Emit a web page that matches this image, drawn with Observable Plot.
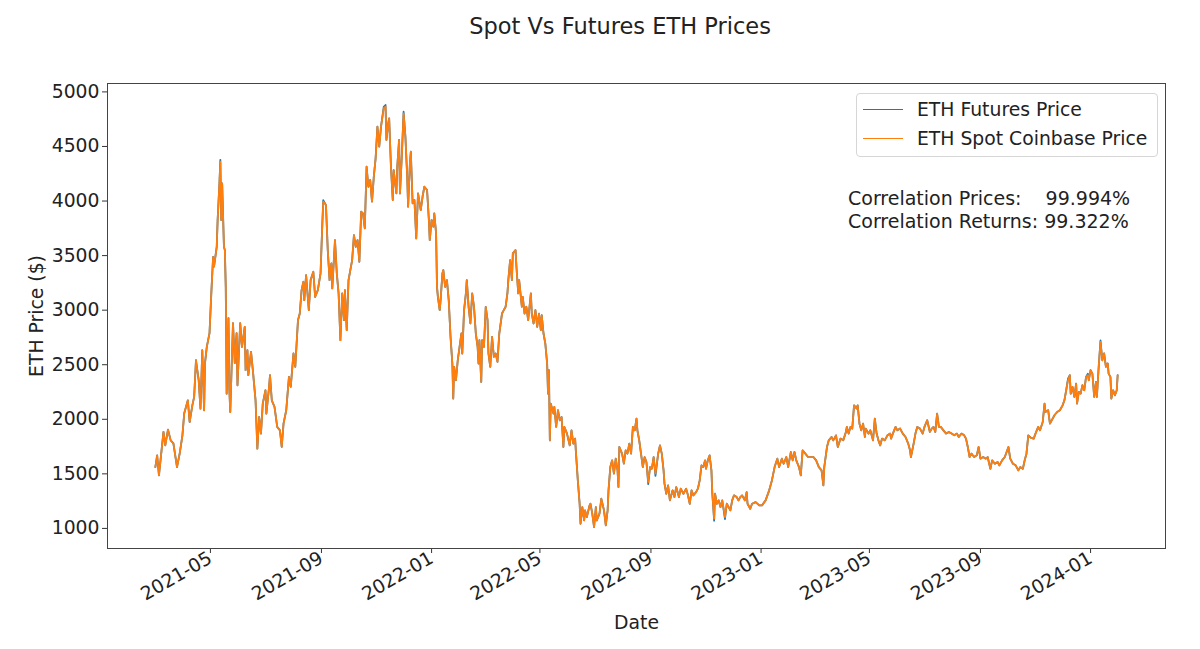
<!DOCTYPE html>
<html>
<head>
<meta charset="utf-8">
<script src="https://cdn.jsdelivr.net/npm/d3@7"></script>
<script src="https://cdn.jsdelivr.net/npm/@observablehq/plot@0.6"></script>
<style>
  html, body { margin: 0; padding: 0; background: #fff; }
  #wrap { position: relative; width: 1200px; height: 649px; font-family: "DejaVu Sans", sans-serif; color: #222; }
  #title { height: 50px; line-height: 52px; padding-left: 40px; text-align: center; font-size: 22.5px; }
  #legend { position: absolute; left: 856px; top: 93px; width: 300px; height: 62px; border: 1px solid #d6d6d6; border-radius: 4px; background: rgba(255,255,255,0.8); font-size: 18.8px; }
  .lg-row { position: absolute; left: 0; height: 24px; line-height: 24px; white-space: nowrap; }
  .lg-sw { position: absolute; left: 6px; top: 11px; width: 40px; height: 0; border-top: 1.6px solid; }
  .lg-tx { position: absolute; left: 60px; top: 0; }
  #corr { position: absolute; left: 848px; top: 187px; font-size: 19px; line-height: 23.4px; white-space: pre; }
</style>
</head>
<body>
<div id="wrap">
  <div id="title">Spot Vs Futures ETH Prices</div>
  <div id="chart"></div>
  <div id="legend"></div>
  <div id="corr"></div>
</div>
<script>
// ---- Data (days since 2021-03-01, ETH spot price in $) ----
const startDate = "2021-03-01";
const spotDay = [0,2,4,9,11,14,17,20,24,27,30,32,36,38,41,43,45,48,50,52,54,55,57,60,62,64,65,68,69,71,72,73,74,76,77,78,79,81,82,83,86,88,90,91,94,96,99,100,102,103,106,108,111,113,115,117,119,122,123,126,127,129,132,135,138,140,142,145,148,
150,153,155,158,160,162,164,165,167,170,172,175,177,180,183,185,186,189,191,193,195,196,199,201,203,205,207,209,210,212,214,216,218,220,222,224,226,228,230,232,234,236,238,240,242,244,246,248,250,253,255,256,258,259,261,263,264,267,268,270,271,273,275,277,279,280,282,283,285,287,289,291,294,296,298,301,303,304,306,308,309,311,312,313,315,
316,318,319,321,323,325,327,329,330,331,333,335,337,339,340,342,344,345,347,349,351,353,355,357,358,359,361,362,364,366,368,369,371,373,375,377,379,381,384,386,388,390,391,393,395,396,399,400,402,403,406,407,409,411,413,416,417,419,421,423,425,427,428,430,432,434,435,436,437,438,441,442,444,446,448,450,452,453,456,459,461,463,465,466,468,470,471,473,475,476,478,481,
482,484,486,488,489,492,494,497,499,501,502,504,506,508,510,512,513,514,517,519,521,523,525,527,529,531,533,534,536,538,540,542,544,546,548,550,552,554,557,559,561,563,564,566,568,570,573,575,577,580,582,585,588,590,592,594,596,599,601,603,605,607,609,610,612,614,616,617,619,620,622,624,626,628,631,633,635,637,639,641,644,646,648,
650,653,655,656,659,661,665,669,672,676,680,683,686,689,691,694,696,699,701,704,706,708,710,713,715,717,720,723,726,729,732,735,738,740,741,744,746,749,751,754,756,759,762,765,766,768,770,772,774,777,778,780,782,784,786,787,790,792,795,797,799,801,803,805,808,811,814,
815,817,820,822,825,828,831,834,836,837,840,842,844,847,850,852,855,858,860,862,864,866,868,870,873,876,879,882,885,888,890,893,896,898,900,902,904,907,910,912,914,917,920,922,925,927,930,933,935,938,941,943,945,947,950,953,956,958,961,963,965,967,
970,973,975,978,980,983,985,986,989,991,994,996,999,1002,1005,1007,1009,1011,1013,1014,1016,1018,1020,1021,1023,1025,1027,1029,1031,1033,1034,1036,1038,1040,1042,1043,1045,1047,1049,1051,1053,1055,1056,1058,1059,1061,1063,1065,1066];
const spotPrice = [1562,1670,1486,1884,1761,1905,1807,1780,1562,1688,1853,2055,2174,1975,2128,2205,2541,2358,2098,2633,2083,2514,2663,2789,3156,3489,3398,3581,3826,4162,4360,3826,4162,3581,3550,3213,2235,2927,2266,2067,2881,2514,2789,2312,2881,2663,2847,2450,2633,2404,2618,2450,2174,1731,2021,1869,2144,2266,2052,2297,2404,2174,2113,1930,1899,1746,1960,2083,2389,
2297,2603,2480,2908,2969,3183,3260,3092,3321,3000,3275,3352,3122,3183,3337,3795,3994,3963,3550,3275,3428,3199,3642,3337,3153,2725,3153,2908,3183,2817,3275,3367,3459,3688,3581,3642,3443,3902,3887,3749,4315,4131,4193,3994,4223,4391,4682,4498,4682,4850,4865,4560,4713,4758,4315,4009,4284,4070,4315,4560,4070,4407,4804,4590,4223,3948,4346,4452,3979,4009,3658,4070,3917,4039,4131,4101,3826,3642,3826,3765,3887,3703,3213,3122,3000,
3092,3337,3367,3213,3275,3092,2755,2511,2190,2480,2358,2541,2663,2786,2603,3000,3153,3275,3031,2878,3153,3031,2786,2663,2511,2725,2342,2725,2663,3031,2908,2603,2480,2755,2572,2603,2526,2786,2969,3000,3031,3153,3275,3459,3275,3520,3550,3398,3153,3275,3031,3122,2969,3031,2908,3153,2969,2878,3000,2847,2969,2817,2954,2786,2694,2511,2235,2450,1807,2144,2052,2113,1930,2083,1991,2021,1746,1930,1869,1761,1899,1777,1823,1685,1440,1226,1043,1196,1073,1165,1104,1211,
1226,1135,1012,1196,1073,1135,1272,1165,1028,1165,1349,1562,1624,1502,1639,1532,1379,1746,1685,1593,1716,1685,1777,1685,1930,1899,2006,1899,1807,1685,1562,1654,1609,1425,1562,1547,1654,1502,1685,1761,1685,1532,1410,1318,1394,1257,1349,1287,1379,1287,1364,1318,1364,1303,1226,1349,1303,1333,1364,1440,1578,1562,1624,1547,1624,1670,1532,1318,1089,1318,1226,1257,1196,1257,1104,1226,1196,1165,1257,1303,1287,1257,1287,
1303,1257,1333,1226,1180,1226,1241,1211,1211,1257,1349,1440,1562,1639,1562,1639,1593,1654,1562,1700,1624,1700,1624,1562,1486,1716,1685,1654,1654,1654,1624,1562,1532,1394,1562,1746,1807,1838,1807,1853,1746,1823,1807,1884,1930,1869,1930,1915,2128,2098,2128,1960,1899,1960,1838,1915,1869,1899,1807,2006,1869,1807,1761,1823,1807,1853,1869,
1823,1869,1930,1899,1915,1869,1838,1777,1716,1654,1777,1869,1930,1915,1869,1930,1991,1884,1915,1930,1884,2052,1930,1930,1899,1869,1884,1869,1853,1869,1838,1869,1853,1823,1746,1654,1685,1654,1670,1746,1639,1654,1639,1654,1547,1624,1593,1609,1578,1624,1654,1700,1746,1639,1593,1578,1532,1562,1547,1624,1685,1853,
1830,1823,1869,1930,1899,1975,2144,2067,2083,1960,2006,2037,2067,2083,2128,2174,2266,2358,2404,2235,2297,2205,2327,2144,2251,2235,2312,2266,2389,2404,2358,2450,2419,2205,2342,2205,2480,2709,2541,2603,2480,2511,2419,2389,2190,2266,2220,2266,2404];
// Points where the futures line visibly departs from spot: [day, futures price]
const futuresDiffDay = [72, 186, 253, 255, 275, 546, 554, 619, 631, 1011, 1033, 1047];
const futuresDiffPrice = [4378, 4008, 4862, 4880, 4818, 1405, 1482, 1070, 1086, 2372, 2418, 2722];

const seriesNames = ["ETH Futures Price", "ETH Spot Coinbase Price"];
const seriesColors = ["#1f77b4", "#ff7f0e"];
const yTicks = [1000, 1500, 2000, 2500, 3000, 3500, 4000, 4500, 5000];
const xTickLabels = ["2021-05", "2021-09", "2022-01", "2022-05", "2022-09", "2023-01", "2023-05", "2023-09", "2024-01"];
const xDomain = ["2021-01-07", "2024-03-24"];
const yDomain = [816, 5077];
const corrPrices = "99.994%";
const corrReturns = "99.322%";

// ---- Build tables ----
const t0 = d3.utcParse("%Y-%m-%d")(startDate);
const spot = spotDay.map((d, i) => ({date: d3.utcDay.offset(t0, d), price: spotPrice[i]}));
const fMap = new Map(futuresDiffDay.map((d, i) => [d, futuresDiffPrice[i]]));
const futures = spotDay.map((d, i) => ({date: d3.utcDay.offset(t0, d), price: fMap.has(d) ? fMap.get(d) : spotPrice[i]}));
const parseM = d3.utcParse("%Y-%m");
const xTicks = xTickLabels.map(parseM);

const chart = Plot.plot({
  width: 1200,
  height: 599,
  marginTop: 33,
  marginBottom: 101,
  marginLeft: 107,
  marginRight: 35,
  style: {fontFamily: "DejaVu Sans, sans-serif", fontSize: "18.8px", color: "#222", background: "#fff"},
  x: {type: "utc", domain: xDomain.map(d3.utcParse("%Y-%m-%d"))},
  y: {domain: yDomain},
  marks: [
    Plot.axisY({ticks: yTicks, tickFormat: d => String(d), tickSize: 5, tickPadding: 3, label: "ETH Price ($)", labelAnchor: "center", labelArrow: "none", labelOffset: 78, stroke: "#333"}),
    Plot.axisX({ticks: xTicks, tickFormat: d3.utcFormat("%Y-%m"), tickRotate: -30, tickSize: 5, tickPadding: 3, label: "Date", labelAnchor: "center", labelArrow: "none", labelOffset: 80, stroke: "#333"}),
    Plot.lineY(futures, {x: "date", y: "price", stroke: seriesColors[0], strokeWidth: 1.8}),
    Plot.lineY(spot, {x: "date", y: "price", stroke: seriesColors[1], strokeWidth: 1.8}),
    Plot.frame({stroke: "#444", strokeWidth: 1})
  ]
});
document.getElementById("chart").appendChild(chart);

// ---- Legend ----
const legend = document.getElementById("legend");
seriesNames.forEach((name, i) => {
  const row = document.createElement("div");
  row.className = "lg-row";
  row.style.top = (4 + i * 29) + "px";
  row.style.width = "100%";
  const sw = document.createElement("div");
  sw.className = "lg-sw";
  sw.style.borderTopColor = seriesColors[i];
  const tx = document.createElement("div");
  tx.className = "lg-tx";
  tx.textContent = name;
  row.appendChild(sw); row.appendChild(tx);
  legend.appendChild(row);
});

document.getElementById("corr").textContent =
  "Correlation Prices:    " + corrPrices + "\nCorrelation Returns: " + corrReturns;
</script>
</body>
</html>
